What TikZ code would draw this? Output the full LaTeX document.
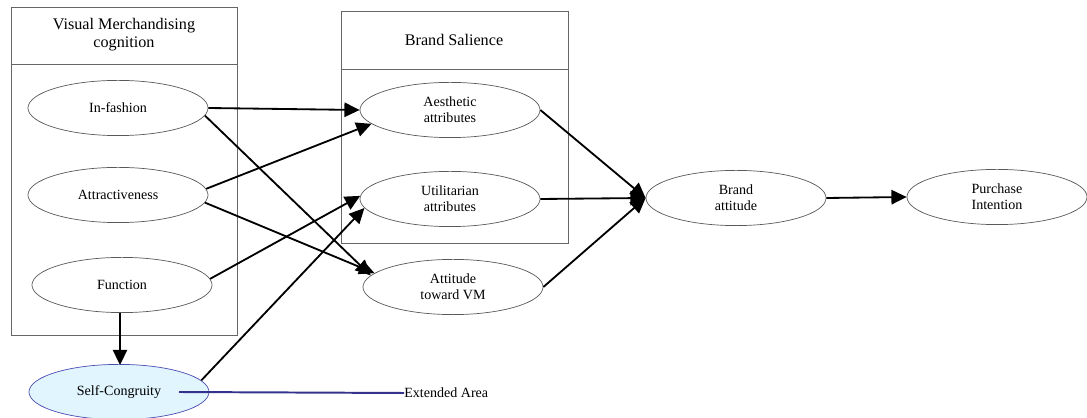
\documentclass[tikz,border=0pt]{standalone}
\usepackage{fontspec}
\setmainfont{Liberation Serif}
\usepackage{tikz}
\usetikzlibrary{shapes,arrows.meta,positioning,calc}

\begin{document}
\begin{tikzpicture}[x=0.025cm, y=-0.025cm, >={Triangle[length=0.38cm, width=0.36cm]}]
        \tikzset{
            panel/.style={draw=gray!80!black, line width=0.6pt},
            head/.style={align=center, font=\fontsize{11.5}{13}\selectfont},
            construct/.style={draw=gray!70!black, ellipse, minimum width=4.5cm, minimum height=1.38cm, inner sep=0pt, align=center, line width=0.5pt, font=\fontsize{10}{11.5}\selectfont},
            link/.style={->, line width=1.3pt}
        }
        \definecolor{extblue}{RGB}{52,50,140}
        \useasboundingbox (0,0) rectangle (1087,418);

        % Panels
        \draw [panel] (11,7) rectangle (237,335);
        \draw [panel] (11,64) -- (237,64);
        \node [head] (vm_head) at (124,35) {Visual Merchandising\\cognition};
        \draw [panel] (341,11) rectangle (568,243);
        \draw [panel] (341,69) -- (568,69);
        \node [head] (bs_head) at (454,40) {Brand Salience};

        % Nodes
        \node [construct] (fash) at (118,108) {In-fashion};
        \node [construct] (attr) at (118,195) {Attractiveness};
        \node [construct] (func) at (122,285) {Function};
        \node [construct, fill=cyan!12, draw=gray!60!blue] (self) at (119,392) {Self-Congruity};
        \node [construct] (aest) at (450,110) {Aesthetic\\attributes};
        \node [construct] (util) at (450,199) {Utilitarian\\attributes};
        \node [construct] (atvm) at (453,287) {Attitude\\toward VM};
        \node [construct] (batt) at (736,198) {Brand\\attitude};
        \node [construct] (purc) at (997,197) {Purchase\\Intention};
        \node [font=\fontsize{10}{11.5}\selectfont, anchor=west, inner sep=0pt] (ext) at (404,393) {Extended Area};

        % Connections
        \draw [link] (fash.east) -- (aest.west);
        \draw [link] (fash.-5) -- (atvm.172);
        \draw [link] (attr.4) -- (aest.190);
        \draw [link] (attr.-5) -- (atvm.170);
        \draw [link] (func.4) -- (util.178);
        \draw [link] (self.8) -- (util.186);
        \draw [link] (aest.east) -- (batt.west);
        \draw [link] (util.east) -- (batt.west);
        \draw [link] (atvm.east) -- (batt.west);
        \draw [link] (batt.east) -- (purc.west);
        \draw [link] (func.south) ++(-2,0) -- ++(0,52);

        % Extension
        \coordinate (self_tail) at ($(self.center)+(60,0)$);
        \draw [line width=1.4pt, color=extblue] (self_tail) -- (ext.west);
\end{tikzpicture}
\end{document}
